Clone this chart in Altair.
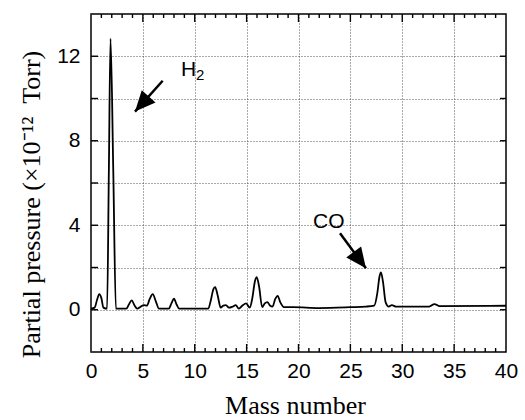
import altair as alt
import pandas as pd

# ---- spectrum ----
mass = [0, 0.35, 0.6, 0.8, 1.0, 1.2, 1.55, 1.72, 1.88, 2.15, 2.4, 3.4, 3.65, 3.92,
        4.2, 4.45, 4.8, 5.1, 5.4, 5.65, 5.95, 6.25, 6.55, 7.5, 7.75, 8.0, 8.25,
        8.5, 11.3, 11.55, 11.8, 11.97, 12.2, 12.5, 12.75, 13.0, 13.3, 13.65,
        13.95, 14.25, 14.6, 14.95, 15.3, 15.55, 15.8, 15.97, 16.2, 16.5, 16.75,
        17.0, 17.25, 17.5, 17.75, 17.99, 18.25, 18.6, 19.5, 22, 25, 26.5, 27.3,
        27.6, 27.8, 27.95, 28.15, 28.4, 28.7, 29.0, 29.4, 32.6, 33.1, 33.6, 40]
pressure = [0.05, 0.1, 0.5, 0.74, 0.55, 0.1, 0.05, 6.5, 12.83, 6.5, 0.05, 0.05,
            0.25, 0.44, 0.2, 0.05, 0.15, 0.22, 0.2, 0.5, 0.74, 0.4, 0.05, 0.05,
            0.3, 0.52, 0.25, 0.05, 0.05, 0.45, 0.98, 1.07, 0.7, 0.1, 0.2, 0.22,
            0.1, 0.15, 0.22, 0.05, 0.2, 0.3, 0.1, 0.55, 1.35, 1.54, 1.1, 0.12,
            0.3, 0.36, 0.2, 0.15, 0.5, 0.66, 0.35, 0.12, 0.12, 0.08, 0.12, 0.15,
            0.2, 0.8, 1.55, 1.77, 1.3, 0.35, 0.15, 0.22, 0.15, 0.15, 0.27, 0.17,
            0.19]

# ---- axes / ticks ----
x_labels = [0, 5, 10, 15, 20, 25, 30, 35, 40]
y_values = [0, 2, 4, 6, 8, 10, 12]
x_major = [5, 10, 15, 20, 25, 30, 35]
x_minor = [1, 2, 3, 4, 6, 7, 8, 9, 11, 12, 13, 14, 16, 17, 18, 19, 21, 22, 23, 24,
           26, 27, 28, 29, 31, 32, 33, 34, 36, 37, 38, 39]

# ---- annotations ----
lab_text = ["H", "CO"]
lab_x = [8.67, 21.4]
lab_y = [11.07, 3.87]
sub_text = ["2"]
sub_x = [10.12]
sub_y = [10.87]
arrow_tail_x = [6.91, 24.0]
arrow_tail_y = [10.84, 3.62]
arrow_tip_x = [4.24, 26.5]
arrow_tip_y = [9.38, 1.96]
arrow_angle = [221.8, 143.4]

W, H = 415, 338
xs = alt.Scale(domain=[0, 40], nice=False, zero=False)
ys = alt.Scale(domain=[-2, 14], nice=False, zero=False)

X_TITLE = "Mass number"
Y_TITLE = "Partial pressure (×10⁻¹²\u00a0\u00a0Torr)"

spec = pd.DataFrame({"mass": mass, "pressure": pressure})

line = alt.Chart(spec).mark_line(color="black", strokeWidth=1.8,
                                 interpolate="monotone").encode(
    x=alt.X("mass:Q", scale=xs, title=X_TITLE, axis=alt.Axis(
        values=x_labels, labelPadding=8, labelFlush=False,
        titleX=204, titleY=61, titleAlign="center", titleBaseline="alphabetic",
        gridDash=[1, 2])),
    y=alt.Y("pressure:Q", scale=ys, title=Y_TITLE, axis=alt.Axis(
        values=y_values, labelExpr="datum.value % 4 === 0 ? datum.label : ''",
        labelPadding=11, labelFlush=False,
        titleAngle=-90, titleX=-52, titleY=190, titleAlign="center",
        titleBaseline="alphabetic", gridDash=[1, 2])),
)


def xq():
    return alt.X("mass:Q", scale=xs, title=X_TITLE)


def yq():
    return alt.Y("pressure:Q", scale=ys, title=Y_TITLE)


tick_style = dict(color="black", strokeWidth=1.4)
ydf = pd.DataFrame({"pressure": y_values})
left_ticks = alt.Chart(ydf).mark_rule(**tick_style).encode(
    y=yq(), x=alt.value(0), x2=alt.value(7))
right_ticks = alt.Chart(ydf).mark_rule(**tick_style).encode(
    y=yq(), x=alt.value(W - 6), x2=alt.value(W))
majdf = pd.DataFrame({"mass": x_major})
mindf = pd.DataFrame({"mass": x_minor})
top_major = alt.Chart(majdf).mark_rule(**tick_style).encode(
    x=xq(), y=alt.value(0), y2=alt.value(8))
top_minor = alt.Chart(mindf).mark_rule(**tick_style).encode(
    x=xq(), y=alt.value(0), y2=alt.value(4))
bot_major = alt.Chart(majdf).mark_rule(**tick_style).encode(
    x=xq(), y=alt.value(H - 8), y2=alt.value(H))
bot_minor = alt.Chart(mindf).mark_rule(**tick_style).encode(
    x=xq(), y=alt.value(H - 4), y2=alt.value(H))

labels = alt.Chart(pd.DataFrame({"t": lab_text, "mass": lab_x, "pressure": lab_y})).mark_text(
    align="left", baseline="alphabetic", font="Liberation Sans", fontSize=21,
    color="black").encode(x=xq(), y=yq(), text="t:N")
subs = alt.Chart(pd.DataFrame({"t": sub_text, "mass": sub_x, "pressure": sub_y})).mark_text(
    align="left", baseline="alphabetic", font="Liberation Sans", fontSize=15,
    color="black").encode(x=xq(), y=yq(), text="t:N")

shaft_df = pd.DataFrame({"mass": arrow_tail_x, "pressure": arrow_tail_y,
                         "mass2": arrow_tip_x, "pressure2": arrow_tip_y})
shafts = alt.Chart(shaft_df).mark_rule(color="black", strokeWidth=2.5).encode(
    x=xq(), y=yq(), x2="mass2:Q", y2="pressure2:Q")
head_df = pd.DataFrame({"mass": arrow_tip_x, "pressure": arrow_tip_y, "ang": arrow_angle})
heads = alt.Chart(head_df).mark_point(
    shape="M0,0 L0.9,2.0 L-0.9,2.0 Z", filled=True, size=420, color="black",
    opacity=1, strokeWidth=0).encode(
    x=xq(), y=yq(), angle=alt.Angle("ang:Q", scale=None))

chart = alt.layer(
    line, left_ticks, right_ticks, top_major, top_minor, bot_major, bot_minor,
    labels, subs, shafts, heads
).properties(
    width=W, height=H,
    autosize=alt.AutoSizeParams(type="none"),
    padding={"left": 91, "top": 14, "right": 19, "bottom": 68},
    background="white",
).configure_view(
    stroke="black", strokeWidth=1.5
).configure_axis(
    domain=False, ticks=False, tickSize=0,
    labelFont="Liberation Sans", labelFontSize=21, labelColor="black",
    titleFont="Liberation Serif", titleFontSize=26, titleFontWeight="normal",
    titleColor="black", grid=True, gridColor="#444444", gridWidth=1,
    gridOpacity=0.9,
)

chart.save("out.html", embed_options={"renderer": "svg", "actions": False})
